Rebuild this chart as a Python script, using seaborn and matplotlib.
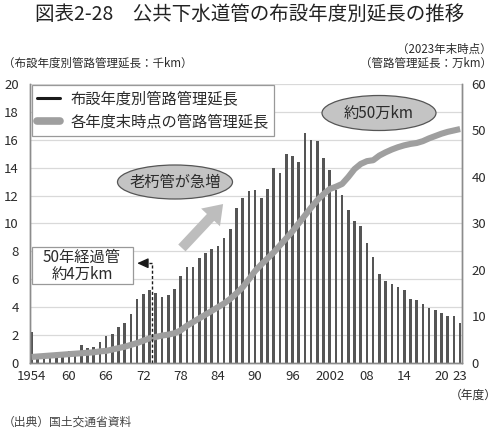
import numpy as np
import pandas as pd
import matplotlib
matplotlib.use("Agg")
import matplotlib.pyplot as plt
import seaborn as sns
from matplotlib.patches import Ellipse, Rectangle, FancyArrowPatch
from matplotlib.lines import Line2D

# ---- data -------------------------------------------------------------
years = list(range(1954, 2024))
# 布設年度別管路管理延長 (千km)
annual_km = [
    2.2, 0.35, 0.4, 0.4, 0.45, 0.5, 0.85, 0.55, 1.3, 1.05,
    1.15, 1.5, 1.95, 2.1, 2.55, 2.9, 3.5, 4.6, 4.95, 5.2,
    5.05, 4.7, 4.85, 5.3, 6.25, 6.9, 6.85, 7.5, 7.85, 8.2,
    8.4, 8.95, 9.6, 11.1, 11.85, 12.35, 12.4, 11.8, 12.5, 13.95,
    13.65, 14.95, 14.8, 14.4, 16.45, 15.95, 15.9, 14.7, 13.85, 12.4,
    12.05, 11.0, 10.2, 9.85, 8.6, 7.6, 6.35, 5.85, 5.65, 5.45,
    5.25, 4.6, 4.5, 4.2, 3.95, 3.8, 3.6, 3.35, 3.4, 2.85,
]
# 各年度末時点の管路管理延長 (万km)
cumulative_km = [
    1.3, 1.4, 1.5, 1.6, 1.7, 1.8, 1.9, 2.0, 2.1, 2.2,
    2.3, 2.5, 2.6, 2.9, 3.2, 3.5, 3.9, 4.3, 4.8, 5.3,
    5.6, 5.9, 6.1, 6.4, 7.0, 8.0, 8.8, 9.6, 10.4, 11.2,
    12.0, 12.8, 13.8, 15.0, 16.3, 18.0, 19.8, 21.2, 22.5, 23.8,
    25.3, 26.8, 28.3, 30.0, 31.7, 33.4, 35.0, 36.3, 37.4, 37.9,
    38.5, 40.0, 41.7, 42.8, 43.4, 43.6, 44.6, 45.3, 45.9, 46.4,
    46.8, 47.1, 47.3, 47.7, 48.3, 48.8, 49.3, 49.7, 50.0, 50.3,
]
left_ticks = list(range(0, 21, 2))
right_ticks = list(range(0, 61, 10))
xtick_years = [1954, 1960, 1966, 1972, 1978, 1984, 1990, 1996, 2002, 2008, 2014, 2020, 2023]
xtick_labels = ["1954", "60", "66", "72", "78", "84", "90", "96", "2002", "08", "14", "20", "23"]
legend_labels = ["布設年度別管路管理延長", "各年度末時点の管路管理延長"]

# ---- style ------------------------------------------------------------
sns.set_theme(style="white")
plt.rcParams["font.family"] = ["Noto Sans CJK JP", "DejaVu Sans"]
TXT = "#2b2b2b"
BAR = "#555555"
LINE = "#9f9f9f"
SPINE = "#8c8c8c"

fig = plt.figure(figsize=(5.0, 4.34), dpi=100)
ax = fig.add_axes([0.06, 0.1636, 0.864, 0.643])

df = pd.DataFrame({"year": years, "annual": annual_km, "cum": cumulative_km})
sns.barplot(data=df, x="year", y="annual", native_scale=True, width=0.42,
            color=BAR, saturation=1, edgecolor="none", linewidth=0, ax=ax)
ax.set_xlim(1953.75, 2023.3)
ax.set_ylim(0, 20)
ax.set_yticks(left_ticks)
ax.set_yticklabels([str(v) for v in left_ticks])
ax.set_xticks(xtick_years)
ax.set_xticklabels(xtick_labels)
ax.set_xlabel("")
ax.set_ylabel("")
ax.yaxis.grid(True, color="#d9d9d9", lw=0.9)
ax.xaxis.grid(False)
ax.set_axisbelow(True)

ax2 = ax.twinx()
sns.lineplot(data=df, x="year", y="cum", ax=ax2, color=LINE, lw=4.4,
             solid_capstyle="butt", solid_joinstyle="round")
ax2.set_ylim(0, 60)
ax2.set_yticks(right_ticks)
ax2.set_yticklabels([str(v) for v in right_ticks])
ax2.set_ylabel("")
ax2.set_xlim(1953.75, 2023.3)
ax2.grid(False)

for a in (ax, ax2):
    a.spines["top"].set_visible(False)
    for s in ("left", "right", "bottom"):
        a.spines[s].set_color(SPINE)
        a.spines[s].set_linewidth(1.0)
    a.tick_params(length=0, colors=TXT, labelsize=9.5)
ax.tick_params(axis="y", pad=8)
ax.tick_params(axis="x", pad=5)
ax2.tick_params(axis="y", pad=7)

# dashed 50-year marker (drawn on right-axis scale: 3x left units)
ax2.plot([1973.45, 1973.45], [0, 7.15 * 3], color="#1a1a1a", lw=1.0, ls=(0, (2.2, 1.6)))
ax2.plot([1973.45, 1971.9], [7.15 * 3, 7.15 * 3], color="#1a1a1a", lw=1.0, ls=(0, (2.2, 1.6)))
ax2.annotate("", xy=(1971.0, 7.15 * 3), xytext=(1972.0, 7.15 * 3),
             arrowprops=dict(arrowstyle="-|>,head_length=0.55,head_width=0.25",
                             color="#1a1a1a", lw=1.0, shrinkA=0, shrinkB=0))

# legend
handles = [Line2D([], [], color="#1a1a1a", lw=2.2),
           Line2D([], [], color=LINE, lw=5.5)]
leg = ax2.legend(handles, legend_labels, loc="upper left", bbox_to_anchor=(0.004, 0.997),
                 fontsize=11, frameon=True, fancybox=False, edgecolor="#999999",
                 framealpha=1, handlelength=1.5, borderpad=0.35, labelspacing=0.4,
                 handletextpad=0.7, borderaxespad=0)
leg.get_frame().set_linewidth(0.9)
for t in leg.get_texts():
    t.set_color(TXT)

# ---- annotations (figure coordinates) --------------------------------
W, H = 500.0, 434.0
def fx(px):
    return px / W
def fy(py):
    return 1 - py / H

# "老朽管が急増" ellipse
fig.add_artist(Ellipse((fx(175), fy(182)), 115 / W, 34 / H, transform=fig.transFigure,
                       facecolor="#c4c4c4", edgecolor="#555555", lw=0.9, zorder=5))
fig.text(fx(175), fy(182), "老朽管が急増", ha="center", va="center", fontsize=11,
         color=TXT, zorder=6)
# big gray arrow
fig.add_artist(FancyArrowPatch((fx(180), fy(250)), (fx(225), fy(202)),
                               transform=fig.transFigure,
                               arrowstyle="simple,head_length=1.1,head_width=1.55,tail_width=0.6",
                               mutation_scale=12, color="#bdbdbd", lw=0, zorder=5))
# "約50万km" ellipse
fig.add_artist(Ellipse((fx(379), fy(113)), 114 / W, 35 / H, transform=fig.transFigure,
                       facecolor="#c4c4c4", edgecolor="#555555", lw=0.9, zorder=5))
fig.text(fx(379), fy(113), "約50万km", ha="center", va="center", fontsize=11,
         color=TXT, zorder=6)
# "50年経過管 約4万km" box
fig.add_artist(Rectangle((fx(32), fy(284)), 101 / W, 37 / H, transform=fig.transFigure,
                         facecolor="white", edgecolor="#999999", lw=0.9, zorder=5))
fig.text(fx(82), fy(257), "50年経過管", ha="center", va="center", fontsize=11,
         color=TXT, zorder=6)
fig.text(fx(82), fy(274), "約4万km", ha="center", va="center", fontsize=11,
         color=TXT, zorder=6)

# ---- titles / axis captions -------------------------------------------
fig.text(0.5, fy(14), "図表2-28　公共下水道管の布設年度別延長の推移", ha="center", va="center",
         fontsize=14, fontweight="normal", color="#222222")
fig.text(fx(3), fy(63), "（布設年度別管路管理延長：千km）", ha="left", va="center",
         fontsize=8.3, color=TXT)
fig.text(fx(492), fy(49), "（2023年末時点）", ha="right", va="center", fontsize=8.3, color=TXT)
fig.text(fx(492), fy(63), "（管路管理延長：万km）", ha="right", va="center", fontsize=8.3, color=TXT)
fig.text(fx(497), fy(395), "（年度）", ha="right", va="center", fontsize=8.5, color=TXT)
fig.text(fx(3), fy(422), "（出典）国土交通省資料", ha="left", va="center", fontsize=8.5, color="#444444")

fig.savefig("out.png", dpi=100)
